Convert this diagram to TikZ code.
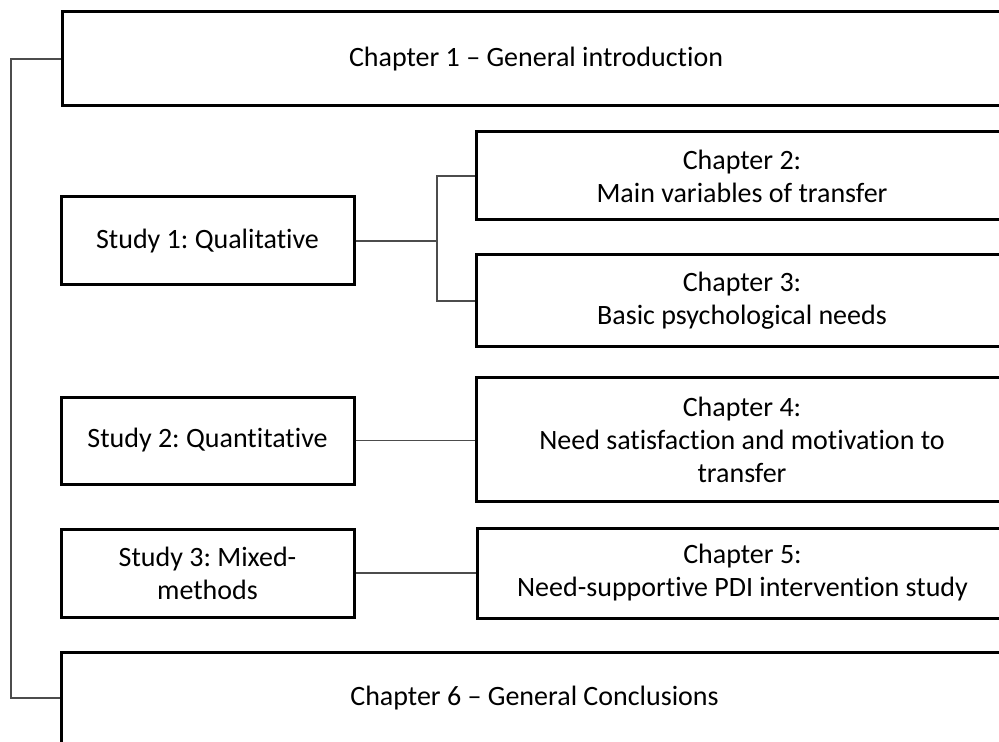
\documentclass[tikz,border=0pt]{standalone}
\usepackage{fontspec}
\setmainfont{Carlito}[Ligatures={TeX,NoCommon}]
\begin{document}
\frenchspacing
\begin{tikzpicture}[x=0.5pt,y=-0.5pt,
  box/.style={draw=black,line width=1.5pt,rectangle,inner sep=0pt,align=center,
    font=\fontsize{14}{16.5}\selectfont},
  conn/.style={draw=black!70,line width=0.75pt}]
\useasboundingbox (0,0) rectangle (999,742);
\clip (0,0) rectangle (999,742);
\node[box,minimum width=474pt,minimum height=47pt] (ch1) at (536,59) {Chapter 1 – General introduction};
\node[box,minimum width=146.5pt,minimum height=44pt] (s1) at (207.5,241) {Study 1: Qualitative};
\node[box,minimum width=266pt,minimum height=44pt] (ch2) at (742,176) {Chapter 2:\\Main variables of transfer};
\node[box,minimum width=266pt,minimum height=46pt] (ch3) at (742,301) {Chapter 3:\\Basic psychological needs};
\node[box,minimum width=146.5pt,minimum height=43.5pt] (s2) at (207.5,440.5) {Study 2: Quantitative};
\node[box,minimum width=266pt,minimum height=61.5pt] (ch4) at (742,439.5) {Chapter 4:\\Need satisfaction and motivation to\\transfer};
\node[box,minimum width=146.5pt,minimum height=44pt] (s3) at (207.5,573) {Study 3: Mixed-\\methods};
\node[box,minimum width=265.5pt,minimum height=45pt] (ch5) at (742.5,573) {Chapter 5:\\Need-supportive PDI intervention study};
\node[box,minimum width=473.5pt,minimum height=46pt] (ch6) at (534.5,698) {Chapter 6 – General Conclusions};
\coordinate (lft) at (11,59);
\coordinate (j1) at (437,241);
\draw[conn] (ch1.west) -- (lft) |- (ch6.west);
\draw[conn] (s1.east) -- (j1);
\draw[conn] (j1) |- (ch2.west);
\draw[conn] (j1) |- (ch3.west);
\draw[conn] (s2.east) -- (s2.east -| ch4.west);
\draw[conn] (s3.east) -- (ch5.west);
\end{tikzpicture}
\end{document}
